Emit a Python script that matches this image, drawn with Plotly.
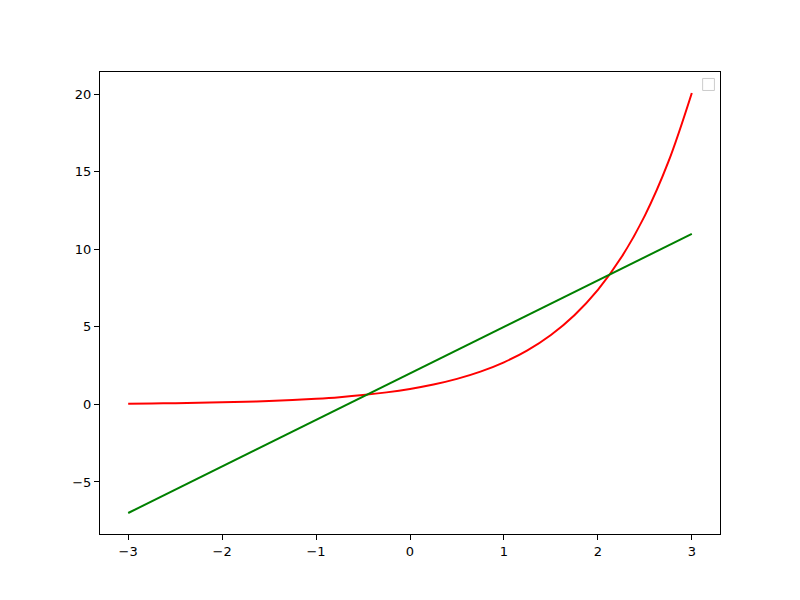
import plotly.graph_objects as go

# red curve
x_curve = [-3.0, -2.75, -2.5, -2.25, -2.0, -1.75, -1.5, -1.25, -1.0, -0.75, -0.5, -0.25,
           0.0, 0.25, 0.5, 0.75, 1.0, 1.25, 1.5, 1.75, 2.0, 2.25, 2.5, 2.75, 3.0]
y_curve = [0.05, 0.064, 0.082, 0.105, 0.135, 0.174, 0.223, 0.287, 0.368, 0.472, 0.607, 0.779,
           1.0, 1.284, 1.649, 2.117, 2.718, 3.49, 4.482, 5.755, 7.389, 9.488, 12.18, 15.64, 20.09]

# green straight line
x_line = [-3.0, 3.0]
y_line = [-7.0, 11.0]

x_ticks = [-3, -2, -1, 0, 1, 2, 3]
y_ticks = [-5, 0, 5, 10, 15, 20]

fig = go.Figure()
fig.add_trace(go.Scatter(x=x_curve, y=y_curve, mode='lines',
                         line=dict(color='#ff0000', width=2, shape='spline'),
                         showlegend=False))
fig.add_trace(go.Scatter(x=x_line, y=y_line, mode='lines',
                         line=dict(color='#008000', width=2),
                         showlegend=False))

axis_style = dict(showgrid=False, zeroline=False, showline=True, linecolor='black',
                  linewidth=1, mirror=True, ticks='outside', ticklen=5, tickwidth=1,
                  tickcolor='black', tickfont=dict(size=13, color='black'))

fig.update_xaxes(range=[-3.3, 3.3], tickvals=x_ticks, **axis_style)
fig.update_yaxes(range=[-8.354, 21.44], tickvals=y_ticks, **axis_style)

# page body adds 8px, so margins are shifted by that
fig.update_layout(
    width=800, height=600,
    margin=dict(l=92, r=88, t=64, b=74),
    plot_bgcolor='white', paper_bgcolor='white',
    font=dict(family='DejaVu Sans', color='black'),
    # empty legend box in the corner
    shapes=[dict(type='rect', xref='paper', yref='paper',
                 x0=0.972, x1=0.991, y0=0.960, y1=0.986,
                 line=dict(color='#cccccc', width=1), fillcolor='white')],
)

fig.write_html("out.html")
